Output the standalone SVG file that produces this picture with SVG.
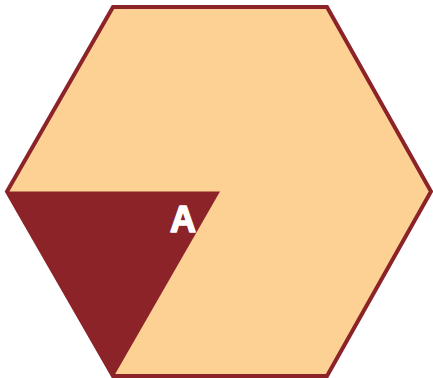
<svg xmlns="http://www.w3.org/2000/svg" width="433" height="378" viewBox="0 0 433 378">
<style>
.hex{fill:#FCD193;stroke:#8B2329;stroke-width:4;stroke-linejoin:miter}
.tri{fill:#8B2329;stroke:none}
.lbl{font-family:"Liberation Sans",Arial,sans-serif;font-weight:bold;font-size:36px;fill:#fff;stroke:#fff;stroke-width:1.6;stroke-linejoin:round;text-anchor:middle}
</style>
<rect width="433" height="378" fill="#fff"/>
<g id="hexagon">
<polygon class="hex" points="113,7 327,7 431,191.5 327,376 113,376 7,191.5"/>
</g>
<g id="triangle">
<polygon class="tri" points="7,191.5 220,191.5 114,376"/>
<text class="lbl" x="183" y="232">A</text>
</g>
<g id="connectors"/>
</svg>
